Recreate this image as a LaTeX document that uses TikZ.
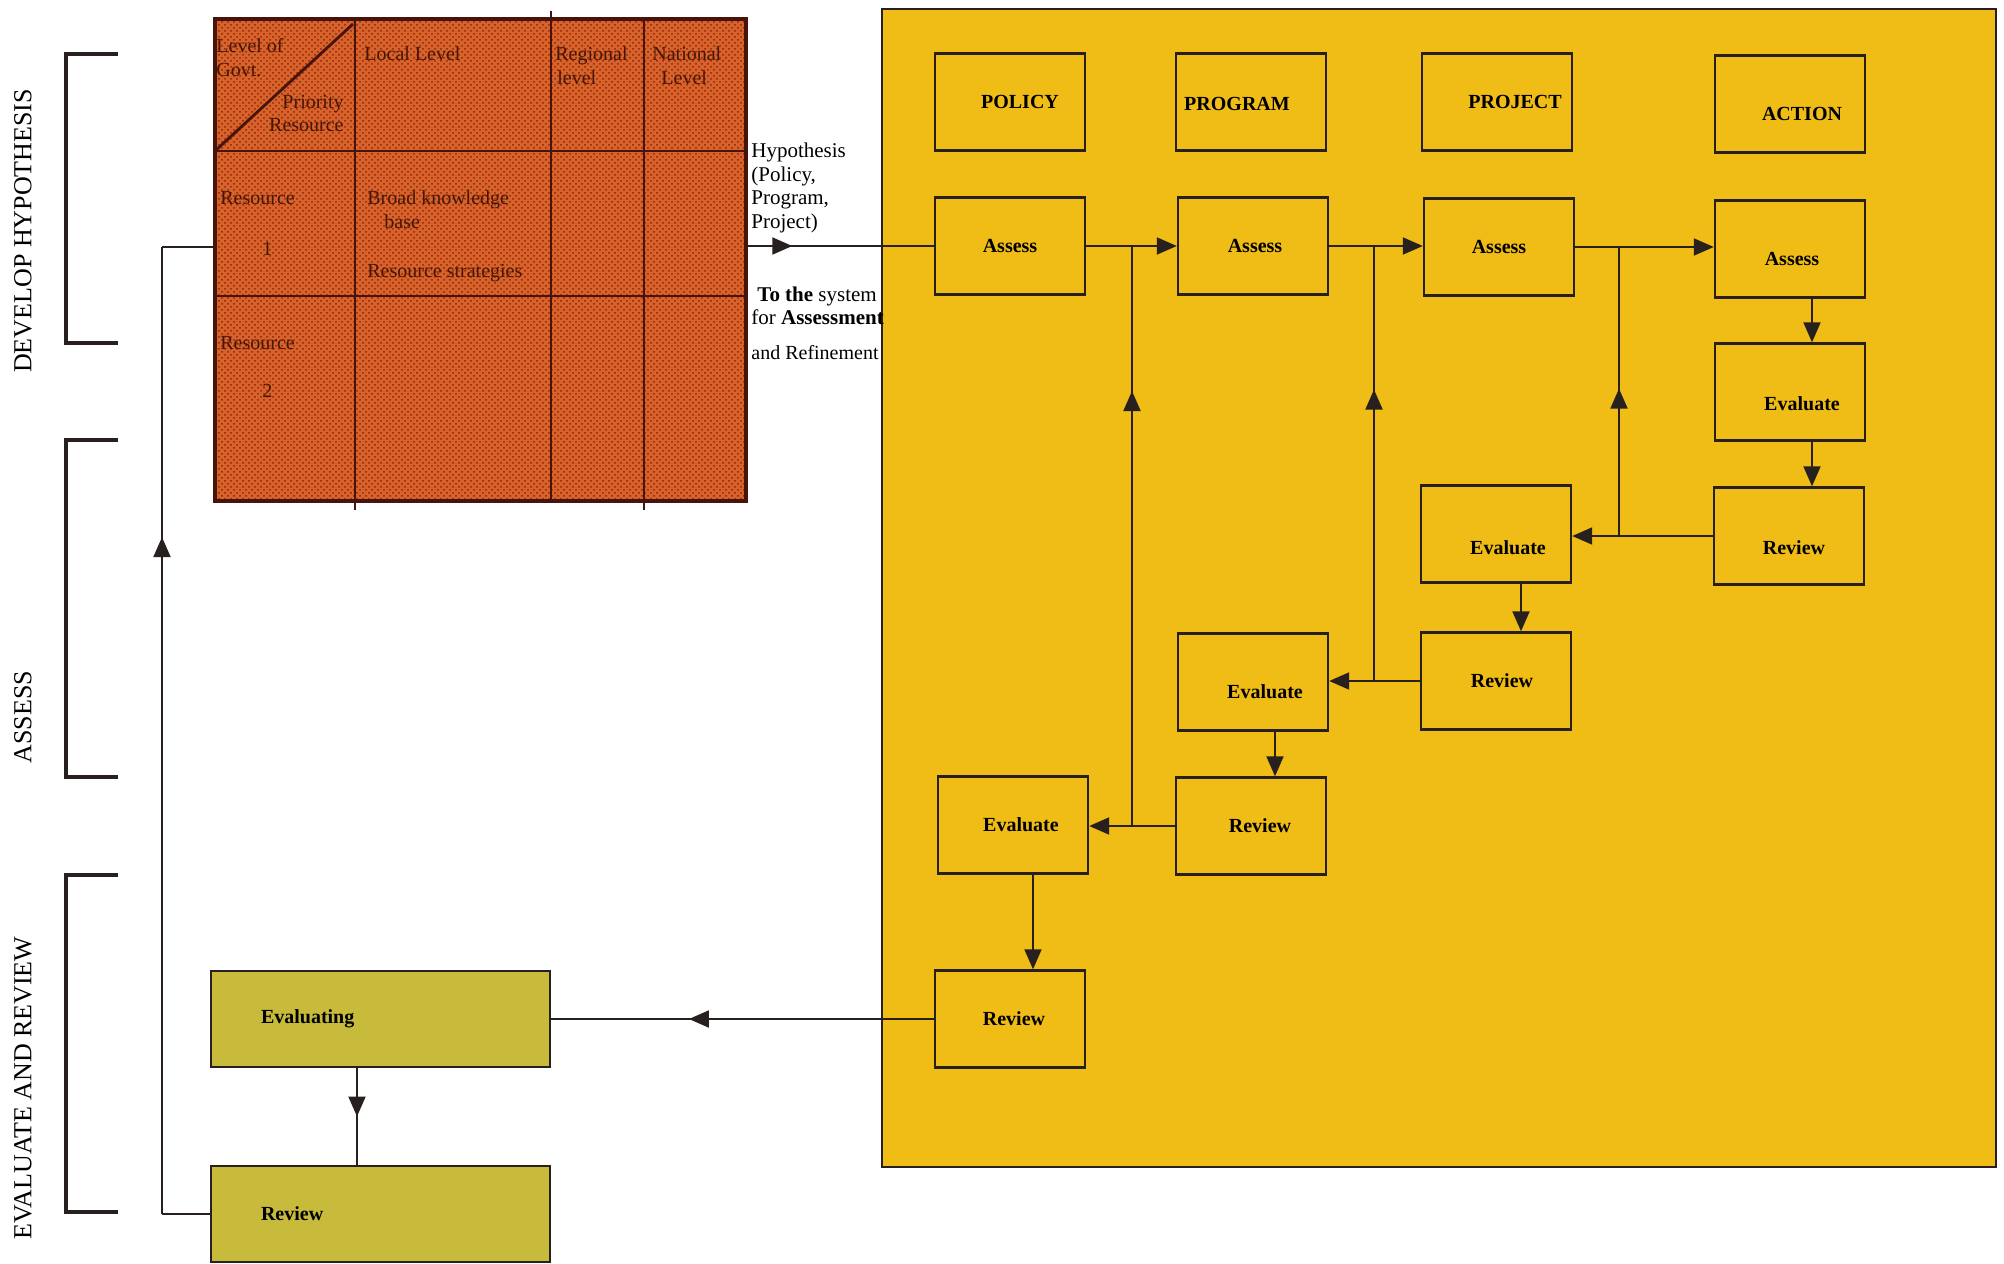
\documentclass[tikz,border=0pt]{standalone}
\usepackage{fontspec}
\setmainfont{Liberation Serif}
\usetikzlibrary{arrows.meta,decorations.markings,patterns}
\definecolor{ybg}{RGB}{240,188,22}
\definecolor{tfill}{RGB}{214,100,42}
\definecolor{tdots}{RGB}{150,30,15}
\definecolor{tline}{RGB}{70,20,10}
\definecolor{ttext}{RGB}{70,22,5}
\definecolor{olivebox}{RGB}{200,186,58}
\definecolor{linecol}{RGB}{40,32,30}
\newcommand{\stg}[5]{\node[stagebox,label={[boxlab,xshift=#3,yshift=#4]center:#5}] (#1) at #2 {};}
\begin{document}
\begin{tikzpicture}[x=0.5pt,y=-0.5pt,
  stagebox/.style={draw=linecol,line width=1.2pt,fill=ybg,minimum width=75pt,minimum height=48.5pt,inner sep=0pt},
  boxlab/.style={inner sep=0pt,font=\fontsize{10}{12}\selectfont\bfseries},
  lbox/.style={draw=linecol,line width=1.2pt,fill=olivebox,minimum height=48pt,text width=119.5pt,inner xsep=25pt,inner ysep=0pt,align=left,font=\fontsize{10}{12}\selectfont\bfseries},
  conn/.style={draw=linecol,line width=1pt},
  arr/.style={-{Triangle[length=10pt,width=8.5pt]}},
  midarrow/.style={postaction={decorate},decoration={markings,mark=at position #1 with {\arrow{Triangle[length=10pt,width=8.5pt]}}}},
  tl/.style={draw=tline,line width=1.4pt},
  ttxt/.style={anchor=base west,inner sep=0pt,text=ttext,font=\fontsize{10}{12}\selectfont},
  htxt/.style={anchor=base west,inner sep=0pt,font=\fontsize{10.5}{12}\selectfont},
  vlab/.style={rotate=90,inner sep=0pt,font=\fontsize{13}{15}\selectfont},
  brk/.style={draw=linecol,line width=1.6pt}]
\useasboundingbox (0,0) rectangle (2004,1264);
\fill[white] (0,0) rectangle (2004,1264);

% side labels and brackets
\node[vlab] (labDH) at (23,231) {DEVELOP HYPOTHESIS};
\node[vlab] (labAS) at (23,717) {ASSESS};
\node[vlab] (labER) at (23,1088) {EVALUATE AND REVIEW};
\draw[brk] (118,54) -- (66,54) -- (66,343) -- (118,343);
\draw[brk] (118,440) -- (66,440) -- (66,777) -- (118,777);
\draw[brk] (118,875) -- (66,875) -- (66,1212) -- (118,1212);

% yellow panel
\node[draw=linecol,line width=0.8pt,fill=ybg,minimum width=557pt,minimum height=579pt,inner sep=0pt] (panel) at (1439,588) {};

% table
\node[draw=tline,line width=1.6pt,fill=tfill,minimum width=265.5pt,minimum height=241pt,inner sep=0pt] (tbl) at (480.5,260) {};
\fill[pattern=crosshatch dots,pattern color=tdots] (216,20) rectangle (745,500);
\draw[draw=tline,line width=1.6pt] (215,19) rectangle (746,501);
\draw[tl] (215,151) -- (746,151);
\draw[tl] (215,296) -- (746,296);
\draw[tl] (355,19) -- (355,510);
\draw[tl] (551,11) -- (551,501);
\draw[tl] (644,19) -- (644,510);
\draw[tl] (215,151) -- (353,24);
\node[ttxt] (t1) at (216,52) {Level of};
\node[ttxt] (t2) at (216,76) {Govt.};
\node[ttxt,anchor=base east] (t3) at (344,108) {Priority};
\node[ttxt,anchor=base east] (t4) at (344,131) {Resource};
\node[ttxt] (t5) at (364,60) {Local Level};
\node[ttxt] (t6) at (555,60) {Regional};
\node[ttxt] (t7) at (557,84) {level};
\node[ttxt] (t8) at (652,60) {National};
\node[ttxt] (t9) at (661,84) {Level};
\node[ttxt] (t10) at (220,204) {Resource};
\node[ttxt] (t11) at (262,255) {1};
\node[ttxt] (t12) at (367,204) {Broad knowledge};
\node[ttxt] (t13) at (384,228) {base};
\node[ttxt] (t14) at (367,277) {Resource strategies};
\node[ttxt] (t15) at (220,349) {Resource};
\node[ttxt] (t16) at (262,397) {2};

% hypothesis text
\node[htxt] (h1) at (751,157) {Hypothesis};
\node[htxt] (h2) at (751,181) {(Policy,};
\node[htxt] (h3) at (751,204) {Program,};
\node[htxt] (h4) at (751,228) {Project)};
\node[htxt] (h5) at (757,301) {\textbf{To the} system};
\node[htxt] (h6) at (751,324) {for \textbf{Assessment}};
\node[htxt,font=\fontsize{10}{12}\selectfont] (h7) at (751,359) {and Refinement};

% stage boxes
\stg{hPol}{(1010,102)}{5pt}{0pt}{POLICY}
\stg{hPrg}{(1251,102)}{-7pt}{-1pt}{PROGRAM}
\stg{hPrj}{(1497,102)}{9pt}{0pt}{PROJECT}
\stg{hAct}{(1790,104)}{6pt}{-5pt}{ACTION}
\stg{aPol}{(1010,246)}{0pt}{0pt}{Assess}
\stg{aPrg}{(1253,246)}{1pt}{0pt}{Assess}
\stg{aPrj}{(1499,247)}{0pt}{0pt}{Assess}
\stg{aAct}{(1790,249)}{1pt}{-5pt}{Assess}
\stg{eAct}{(1790,392)}{6pt}{-6pt}{Evaluate}
\stg{rAct}{(1789,536)}{2.5pt}{-6pt}{Review}
\stg{ePrj}{(1496,534)}{6pt}{-7pt}{Evaluate}
\stg{rPrj}{(1496,681)}{3pt}{0pt}{Review}
\stg{ePrg}{(1253,682)}{6pt}{-5pt}{Evaluate}
\stg{rPrg}{(1251,826)}{4.5pt}{0pt}{Review}
\stg{ePol}{(1013,825)}{4pt}{0pt}{Evaluate}
\stg{rPol}{(1010,1019)}{2pt}{0pt}{Review}

% left boxes
\node[lbox] (evL) at (380.5,1019) {Evaluating};
\node[lbox] (revL) at (380.5,1214) {Review};

% column coordinates
\coordinate (x1) at (1132,0);
\coordinate (x2) at (1374,0);
\coordinate (x3) at (1619,0);
\coordinate (cAct) at (1812,0);
\coordinate (cPrj) at (1521,0);
\coordinate (cPrg) at (1275,0);
\coordinate (cPol) at (1033,0);
\coordinate (cEv) at (357,0);

% hypothesis arrow
\draw[conn,midarrow=0.24] (tbl.east |- aPol.west) -- (aPol.west);

% assess chain
\draw[conn,arr] (aPol.east) -- (aPol.east -| aPrg.west);
\draw[conn,arr] (aPrg.east) -- (aPrg.east -| aPrj.west);
\draw[conn,arr] (aPrj.east) -- (aPrj.east -| aAct.west);

% feedback risers
\draw[conn,midarrow=0.75] (rPrg.west -| x1) -- (aPol.east -| x1);
\draw[conn,midarrow=0.67] (rPrj.west -| x2) -- (aPrg.east -| x2);
\draw[conn,midarrow=0.51] (rAct.west -| x3) -- (aPrj.east -| x3);

% review -> evaluate (leftwards)
\draw[conn,arr] (rPrg.west) -- (rPrg.west -| ePol.east);
\draw[conn,arr] (rPrj.west) -- (rPrj.west -| ePrg.east);
\draw[conn,arr] (rAct.west) -- (rAct.west -| ePrj.east);

% downward arrows
\draw[conn,arr] (aAct.south -| cAct) -- (eAct.north -| cAct);
\draw[conn,arr] (eAct.south -| cAct) -- (rAct.north -| cAct);
\draw[conn,arr] (ePrj.south -| cPrj) -- (rPrj.north -| cPrj);
\draw[conn,arr] (ePrg.south -| cPrg) -- (rPrg.north -| cPrg);
\draw[conn,arr] (ePol.south -| cPol) -- (rPol.north -| cPol);

% policy review -> evaluating
\draw[conn,midarrow=0.64] (rPol.west) -- (rPol.west -| evL.east);
% evaluating -> review
\draw[conn,midarrow=0.5] (evL.south -| cEv) -- (revL.north -| cEv);

% feedback to table
\coordinate (fbB) at (162,1214);
\coordinate (fbT) at (162,247);
\draw[conn] (revL.west) -- (fbB);
\draw[conn,midarrow=0.70] (fbB) -- (fbT);
\draw[conn] (fbT) -- (fbT -| tbl.west);
\end{tikzpicture}
\end{document}
